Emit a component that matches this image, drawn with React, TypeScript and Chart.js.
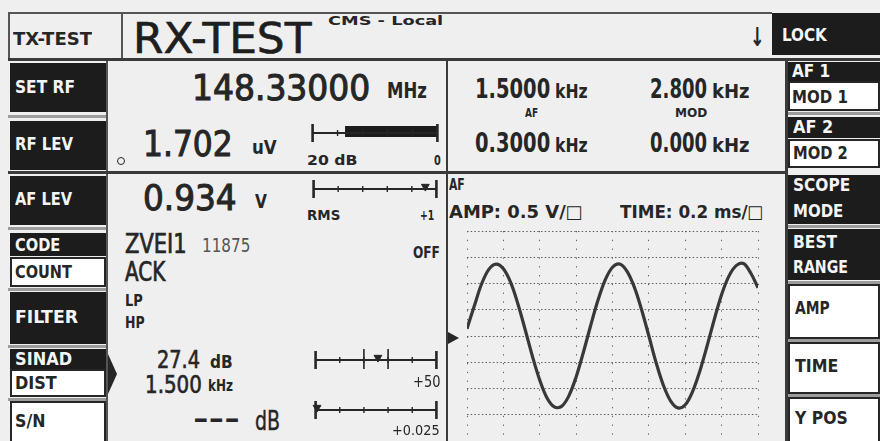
import React, { useEffect, useLayoutEffect, useRef } from 'react';
import { Chart, registerables } from 'chart.js';
Chart.register(...registerables);

const FONT = '"DejaVu Sans Condensed", "DejaVu Sans", "Liberation Sans", sans-serif';
const INK = '#262626';
const BLACK = '#1c1c1c';
const BG = '#efefef';
const GREY = '#9c9c9c';

// Scope trace (time in ms, level in V)
const SCOPE_TIME_MS = [
  0.00, 0.04, 0.08, 0.12, 0.16, 0.20, 0.24, 0.28, 0.32, 0.36,
  0.40, 0.44, 0.48, 0.52, 0.56, 0.60, 0.64, 0.68, 0.72, 0.76,
  0.80, 0.84, 0.88, 0.92, 0.96, 1.00, 1.04, 1.08, 1.12, 1.16,
  1.20, 1.24, 1.28, 1.32, 1.36, 1.40, 1.44, 1.48, 1.52, 1.56, 1.60,
];
const SCOPE_VOLTS = [
  0.14, 0.57, 0.99, 1.27, 1.37, 1.28, 1.02, 0.61, 0.12, -0.39,
  -0.84, -1.18, -1.35, -1.34, -1.14, -0.78, -0.31, 0.20, 0.68, 1.07,
  1.31, 1.37, 1.23, 0.93, 0.50, 0.00, -0.51, -0.94, -1.24, -1.37,
  -1.31, -1.06, -0.67, -0.19, 0.32, 0.79, 1.14, 1.34, 1.38, 1.20, 0.92,
];
const SCOPE_TIME_RANGE = [0, 1.6];
const SCOPE_VOLT_RANGE = [-2, 2];
const SCOPE_TIME_PER_DIV = 0.2;
const SCOPE_VOLT_PER_DIV = 0.5;

// Bar-graph meters (scale in divisions)
const METER_DIVS = [0, 1, 2, 3, 4, 5];
const RF_LEV_BAR = [1.3, 5];
const AF_LEV_MARKS = [4.55];
const SINAD_LIMITS = [2.0, 3.0];
const SINAD_MARKS = [2.58];
const SN_MARKS = [0.06];

type TP = { x: number; y: number; w?: number; size: number; bold?: boolean; stroke?: number; color?: string; children: React.ReactNode; family?: string };
function T({ x, y, w, size, bold = true, stroke = 0, color = INK, children, family }: TP) {
  const ref = useRef<HTMLSpanElement>(null);
  useLayoutEffect(() => {
    const el = ref.current;
    if (!el) return;
    el.style.transform = 'none';
    const nat = el.offsetWidth;
    if (w && nat > 0) el.style.transform = `scaleX(${w / nat})`;
  });
  return (
    <span
      ref={ref}
      style={{
        position: 'absolute', left: x, top: y - size / 2, fontSize: size, lineHeight: `${size}px`,
        fontWeight: bold ? 700 : 400, whiteSpace: 'pre', transformOrigin: '0 50%',
        fontFamily: family || FONT, color,
        WebkitTextStroke: stroke ? `${stroke}px ${color}` : undefined,
      } as any}
    >
      {children}
    </span>
  );
}

function Box({ x, y, w, h, bg, bd }: { x: number; y: number; w: number; h: number; bg?: string; bd?: string }) {
  return (
    <div style={{ position: 'absolute', left: x, top: y, width: w, height: h, background: bg || 'transparent', border: bd, boxSizing: 'border-box' }} />
  );
}

function Scope() {
  const ref = useRef<HTMLCanvasElement>(null);
  useEffect(() => {
    const chart = new Chart(ref.current!, {
      type: 'line',
      data: {
        datasets: [{
          data: SCOPE_TIME_MS.map((t, i) => ({ x: t, y: SCOPE_VOLTS[i] })),
          borderColor: '#383838', borderWidth: 3.2, pointRadius: 0, tension: 0.35, fill: false,
        }],
      },
      options: {
        animation: false, responsive: false, maintainAspectRatio: false, events: [],
        layout: { padding: { left: 10, right: 10, top: 10, bottom: 0 } },
        plugins: { legend: { display: false }, tooltip: { enabled: false } },
        scales: {
          x: {
            type: 'linear', min: SCOPE_TIME_RANGE[0], max: SCOPE_TIME_RANGE[1],
            ticks: { display: false, stepSize: SCOPE_TIME_PER_DIV },
            grid: { color: '#5e5e5e', lineWidth: 1, drawTicks: false },
            border: { display: false, dash: [1.3, 7.5] },
          },
          y: {
            type: 'linear', min: SCOPE_VOLT_RANGE[0], max: SCOPE_VOLT_RANGE[1],
            ticks: { display: false, stepSize: SCOPE_VOLT_PER_DIV },
            grid: { color: '#5e5e5e', lineWidth: 1, drawTicks: false },
            border: { display: false, dash: [1.5, 2.2] },
          },
        },
      },
    } as any);
    return () => chart.destroy();
  }, []);
  return <canvas ref={ref} width={311} height={220} style={{ position: 'absolute', left: 457, top: 221, width: 311, height: 220 }} />;
}

function Meter({ x0, x1, y, bar, marks, limits }: { x0: number; x1: number; y: number; bar?: number[]; marks?: number[]; limits?: number[] }) {
  const ref = useRef<HTMLCanvasElement>(null);
  const W = x1 - x0 + 12;
  const H = 32;
  useEffect(() => {
    const first = METER_DIVS[0];
    const last = METER_DIVS[METER_DIVS.length - 1];
    const datasets: any[] = [
      { data: [{ x: first, y: 0 }, { x: last, y: 0 }], borderColor: INK, borderWidth: 1.8, pointRadius: 0, clip: false },
      {
        data: METER_DIVS.slice(1, -1).map((d) => ({ x: d, y: 0 })), showLine: false, pointStyle: 'line',
        pointRotation: 90, pointRadius: 3, pointBorderWidth: 1.4, pointBorderColor: INK, clip: false,
      },
      {
        data: [first, last].map((d) => ({ x: d, y: 0 })), showLine: false, pointStyle: 'line',
        pointRotation: 90, pointRadius: 9, pointBorderWidth: 2.6, pointBorderColor: INK, clip: false,
      },
    ];
    if (bar) datasets.push({ data: [{ x: bar[0], y: 3.5 }, { x: bar[1], y: 3.5 }], borderColor: BLACK, borderWidth: 11, borderCapStyle: 'butt', pointRadius: 0, clip: false });
    if (marks) datasets.push({
      data: marks.map((m) => ({ x: m, y: 5.5 })), showLine: false, pointStyle: 'triangle', pointRotation: 180,
      pointRadius: 4.5, pointBackgroundColor: INK, pointBorderColor: INK, pointBorderWidth: 1, clip: false,
    });
    if (limits) datasets.push({
      data: limits.map((m) => ({ x: m, y: 2 })), showLine: false, pointStyle: 'line', pointRotation: 90,
      pointRadius: 10, pointBorderWidth: 1.6, pointBorderColor: INK, clip: false,
    });
    const chart = new Chart(ref.current!, {
      type: 'line',
      data: { datasets },
      options: {
        animation: false, responsive: false, maintainAspectRatio: false, events: [],
        layout: { padding: { left: 6, right: 6, top: 6, bottom: 6 } },
        plugins: { legend: { display: false }, tooltip: { enabled: false } },
        scales: {
          x: { type: 'linear', min: first, max: last, display: false },
          y: { type: 'linear', min: -10, max: 10, display: false },
        },
      },
    } as any);
    return () => chart.destroy();
  }, []);
  return <canvas ref={ref} width={W} height={H} style={{ position: 'absolute', left: x0 - 6, top: y - 16, width: W, height: H }} />;
}

export default function App() {
  const W = '#ffffff';
  const L = '#f4f4f4';
  return (
    <div style={{ position: 'fixed', left: 0, top: 0, width: 880, height: 441, background: BG, overflow: 'hidden', fontFamily: FONT }}>
      {/* header frame */}
      <Box x={8} y={12} w={764} h={2} bg="#555" />
      <Box x={8} y={12} w={2} h={48} bg="#555" />
      <Box x={121} y={12} w={2} h={48} bg="#555" />
      <Box x={8} y={58} w={872} h={3} bg="#3a3a3a" />
      <Box x={772} y={13} w={108} h={42} bg={BLACK} />

      {/* left button column */}
      <Box x={10} y={63} w={96} h={49} bg={BLACK} />
      <Box x={8} y={115} w={100} h={3} bg={GREY} />
      <Box x={10} y={121} w={96} h={49} bg={BLACK} />
      <Box x={10} y={176} w={96} h={49} bg={BLACK} />
      <Box x={8} y={227} w={100} h={3} bg={GREY} />
      <Box x={10} y={233} w={96} h={23} bg={BLACK} />
      <Box x={10} y={257} w={96} h={30} bg={W} bd={`2px solid ${INK}`} />
      <Box x={8} y={288} w={100} h={3} bg={GREY} />
      <Box x={10} y={292} w={96} h={52} bg={BLACK} />
      <Box x={8} y={345} w={100} h={3} bg={GREY} />
      <Box x={10} y={349} w={96} h={20} bg={BLACK} />
      <Box x={10} y={369} w={96} h={28} bg={W} bd={`2px solid ${INK}`} />
      <Box x={8} y={398} w={100} h={3} bg={GREY} />
      <Box x={10} y={401} w={96} h={42} bg={W} bd={`2px solid ${INK}`} />

      {/* content frame */}
      <Box x={106} y={61} w={2} h={380} bg="#555" />
      <Box x={8} y={171} w={780} h={3} bg="#3a3a3a" />
      <Box x={446} y={61} w={2} h={380} bg="#3a3a3a" />
      <Box x={785} y={61} w={3} h={380} bg="#3a3a3a" />

      {/* right button column */}
      <Box x={788} y={62} w={92} h={19} bg={BLACK} />
      <Box x={788} y={81} w={92} h={30} bg={W} bd={`2px solid ${INK}`} />
      <Box x={788} y={112} w={92} h={3} bg={GREY} />
      <Box x={788} y={117} w={92} h={21} bg={BLACK} />
      <Box x={788} y={139} w={92} h={29} bg={W} bd={`2px solid ${INK}`} />
      <Box x={788} y={175} w={92} h={49} bg={BLACK} />
      <Box x={788} y={225} w={92} h={3} bg={GREY} />
      <Box x={788} y={229} w={92} h={51} bg={BLACK} />
      <Box x={788} y={281} w={92} h={3} bg={GREY} />
      <Box x={788} y={284} w={92} h={55} bg={W} bd={`2px solid ${INK}`} />
      <Box x={788} y={339} w={92} h={3} bg={GREY} />
      <Box x={788} y={342} w={92} h={52} bg={W} bd={`2px solid ${INK}`} />
      <Box x={788} y={394} w={92} h={3} bg={GREY} />
      <Box x={788} y={397} w={92} h={46} bg={W} bd={`2px solid ${INK}`} />

      {/* header text */}
      <T x={13} y={39} w={79} size={18}>TX-TEST</T>
      <T x={133} y={38} w={179} size={43} bold={false} stroke={0.6} color="#1e1e1e">RX-TEST</T>
      <T x={328} y={21} w={115} size={12}>CMS - Local</T>
      <T x={750} y={37} w={15} size={26}>↓</T>
      <T x={782} y={35} w={45} size={18} color={L}>LOCK</T>

      {/* left buttons text */}
      <T x={15} y={87} w={60} size={18} color={L}>SET RF</T>
      <T x={15} y={144} w={58} size={18} color={L}>RF LEV</T>
      <T x={15} y={199} w={57} size={18} color={L}>AF LEV</T>
      <T x={15} y={245} w={45} size={17} color={L}>CODE</T>
      <T x={15} y={272} w={57} size={17}>COUNT</T>
      <T x={15} y={317} w={63} size={18} color={L}>FILTER</T>
      <T x={15} y={359} w={57} size={17} color={L}>SINAD</T>
      <T x={15} y={383} w={42} size={17}>DIST</T>
      <T x={15} y={421} w={30} size={17}>S/N</T>

      {/* right buttons text */}
      <T x={792} y={71} w={38} size={17} color={L}>AF 1</T>
      <T x={792} y={97} w={56} size={17}>MOD 1</T>
      <T x={793} y={127} w={40} size={17} color={L}>AF 2</T>
      <T x={793} y={153} w={55} size={17}>MOD 2</T>
      <T x={793} y={185} w={57} size={18} color={L}>SCOPE</T>
      <T x={793} y={211} w={50} size={18} color={L}>MODE</T>
      <T x={793} y={242} w={44} size={18} color={L}>BEST</T>
      <T x={793} y={267} w={55} size={18} color={L}>RANGE</T>
      <T x={795} y={308} w={35} size={18}>AMP</T>
      <T x={795} y={366} w={43} size={18}>TIME</T>
      <T x={795} y={418} w={53} size={18}>Y POS</T>

      {/* row 1 left */}
      <T x={192} y={88} w={178} size={35} bold={false} stroke={1}>148.33000</T>
      <T x={387} y={91} w={40} size={22}>MHz</T>
      <div style={{ position: 'absolute', left: 117, top: 157, width: 6, height: 6, borderRadius: 4, border: `1px solid ${INK}` }} />
      <T x={143} y={144} w={90} size={36} bold={false} stroke={1}>1.702</T>
      <T x={252} y={147} w={25} size={20}>uV</T>
      <Meter x0={307} x1={443} y={133} bar={RF_LEV_BAR} />
      <T x={307} y={160} w={51} size={14}>20 dB</T>
      <T x={434} y={160} w={7} size={14}>0</T>

      {/* row 1 right */}
      <T x={475} y={89} w={75} size={26}>1.5000</T>
      <T x={555} y={91} w={33} size={19}>kHz</T>
      <T x={650} y={89} w={57} size={26}>2.800</T>
      <T x={712} y={91} w={38} size={19}>kHz</T>
      <T x={525} y={112} w={13} size={13}>AF</T>
      <T x={675} y={112} w={32} size={13}>MOD</T>
      <T x={475} y={143} w={75} size={26}>0.3000</T>
      <T x={555} y={145} w={33} size={19}>kHz</T>
      <T x={650} y={143} w={57} size={26}>0.000</T>
      <T x={712} y={145} w={38} size={19}>kHz</T>

      {/* row 2 left */}
      <T x={143} y={198} w={94} size={36} bold={false} stroke={1}>0.934</T>
      <T x={255} y={201} w={12} size={20}>V</T>
      <Meter x0={308} x1={442} y={189} marks={AF_LEV_MARKS} />
      <T x={307} y={215} w={33} size={14}>RMS</T>
      <T x={420} y={215} w={14} size={14}>+1</T>
      <T x={125} y={244} w={62} size={26} bold={false} stroke={0.7}>ZVEI1</T>
      <T x={202} y={245} w={48} size={19} bold={false} color="#555">11875</T>
      <T x={125} y={272} w={40} size={26} bold={false} stroke={0.7}>ACK</T>
      <T x={413} y={253} w={27} size={15}>OFF</T>
      <T x={125} y={301} w={18} size={16}>LP</T>
      <T x={125} y={323} w={20} size={16}>HP</T>
      <div style={{ position: 'absolute', left: 108, top: 354, width: 0, height: 0, borderLeft: `9px solid ${INK}`, borderTop: '20px solid transparent', borderBottom: '20px solid transparent' }} />
      <T x={157} y={360} w={43} size={24} bold={false} stroke={0.6}>27.4</T>
      <T x={210} y={362} w={23} size={17}>dB</T>
      <T x={145} y={385} w={57} size={24} bold={false} stroke={0.6}>1.500</T>
      <T x={208} y={386} w={25} size={16}>kHz</T>
      <Meter x0={310} x1={442} y={360} marks={SINAD_MARKS} limits={SINAD_LIMITS} />
      <T x={413} y={382} w={27} size={15} bold={false}>+50</T>
      <T x={193} y={419} w={47} size={24}>---</T>
      <T x={255} y={420} w={25} size={27} bold={false} stroke={0.4}>dB</T>
      <Meter x0={310} x1={442} y={410} marks={SN_MARKS} />
      <T x={392} y={430} w={48} size={14} bold={false}>+0.025</T>

      {/* scope */}
      <T x={449} y={185} w={16} size={15}>AF</T>
      <T x={449} y={212} w={134} size={18}>AMP: 0.5 V/□</T>
      <T x={620} y={212} w={143} size={18}>TIME: 0.2 ms/□</T>
      <div style={{ position: 'absolute', left: 448, top: 332, width: 0, height: 0, borderLeft: `11px solid ${INK}`, borderTop: '6px solid transparent', borderBottom: '6px solid transparent' }} />
      <Scope />
    </div>
  );
}
